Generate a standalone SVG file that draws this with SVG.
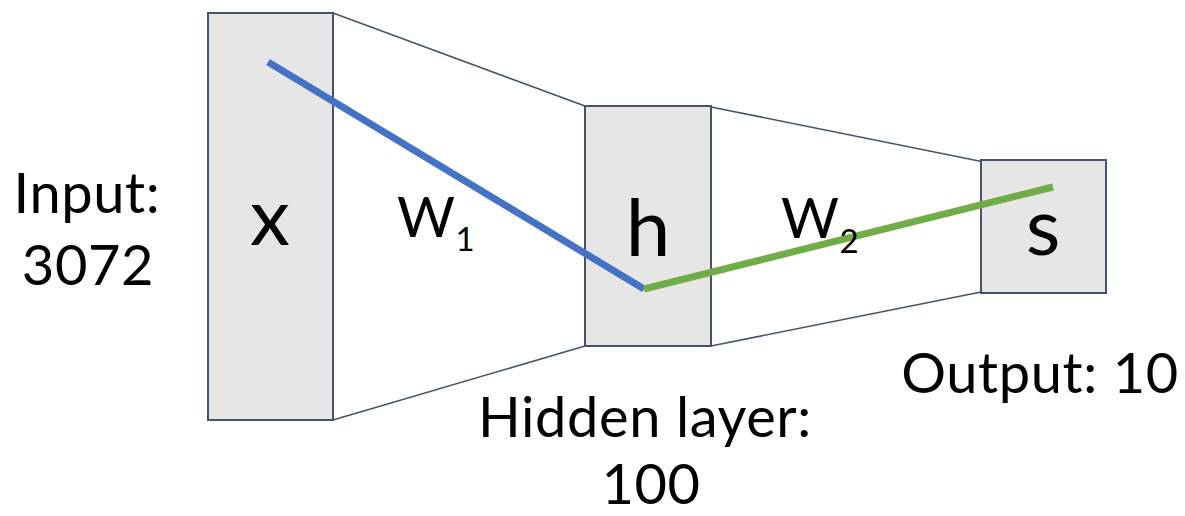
<svg xmlns="http://www.w3.org/2000/svg" width="1185" height="516" viewBox="0 0 1185 516">
<style>
.box{fill:#E7E6E6;stroke:#44546A;stroke-width:2}
.edge{stroke:#44546A;stroke-width:1.6;fill:none}
.lbl{font-family:Lato,"Open Sans",sans-serif;fill:#000;font-size:56px;letter-spacing:0.6px}
.big{font-family:Lato,"Open Sans",sans-serif;fill:#000;font-size:80px}
.sub{font-size:33px}
</style>
<rect width="1185" height="516" fill="#fff"/>
<g id="connectors">
<line class="edge" x1="333" y1="13" x2="585" y2="106"/>
<line class="edge" x1="333" y1="420" x2="585" y2="346"/>
<line class="edge" x1="711" y1="107" x2="984" y2="162"/>
<line class="edge" x1="711" y1="346" x2="981" y2="292"/>
</g>
<g id="node-x">
<rect class="box" x="208" y="13" width="125" height="407"/>
<text class="big" x="270" y="245" text-anchor="middle">x</text>
</g>
<g id="node-h">
<rect class="box" x="585" y="106" width="126" height="240"/>
<text class="big" x="648" y="256" text-anchor="middle">h</text>
</g>
<g id="node-s">
<rect class="box" x="981" y="160" width="125" height="133"/>
<text class="big" x="1043" y="255" text-anchor="middle">s</text>
</g>
<g id="paths">
<polyline points="268,62 644,289" fill="none" stroke="#4472C4" stroke-width="7"/>
<polyline points="644,289 1053,187" fill="none" stroke="#70AD47" stroke-width="7"/>
</g>
<g id="labels">
<text class="lbl" x="87" y="213" text-anchor="middle">Input:</text>
<text class="lbl" x="88" y="285" text-anchor="middle">3072</text>
<text class="lbl" x="397" y="237">W<tspan class="sub" dy="14">1</tspan></text>
<text class="lbl" x="781" y="238">W<tspan class="sub" dy="15">2</tspan></text>
<text class="lbl" x="1040" y="393" text-anchor="middle">Output: 10</text>
<text class="lbl" x="645" y="437" text-anchor="middle">Hidden layer:</text>
<text class="lbl" x="651" y="504" text-anchor="middle">100</text>
</g>
</svg>
